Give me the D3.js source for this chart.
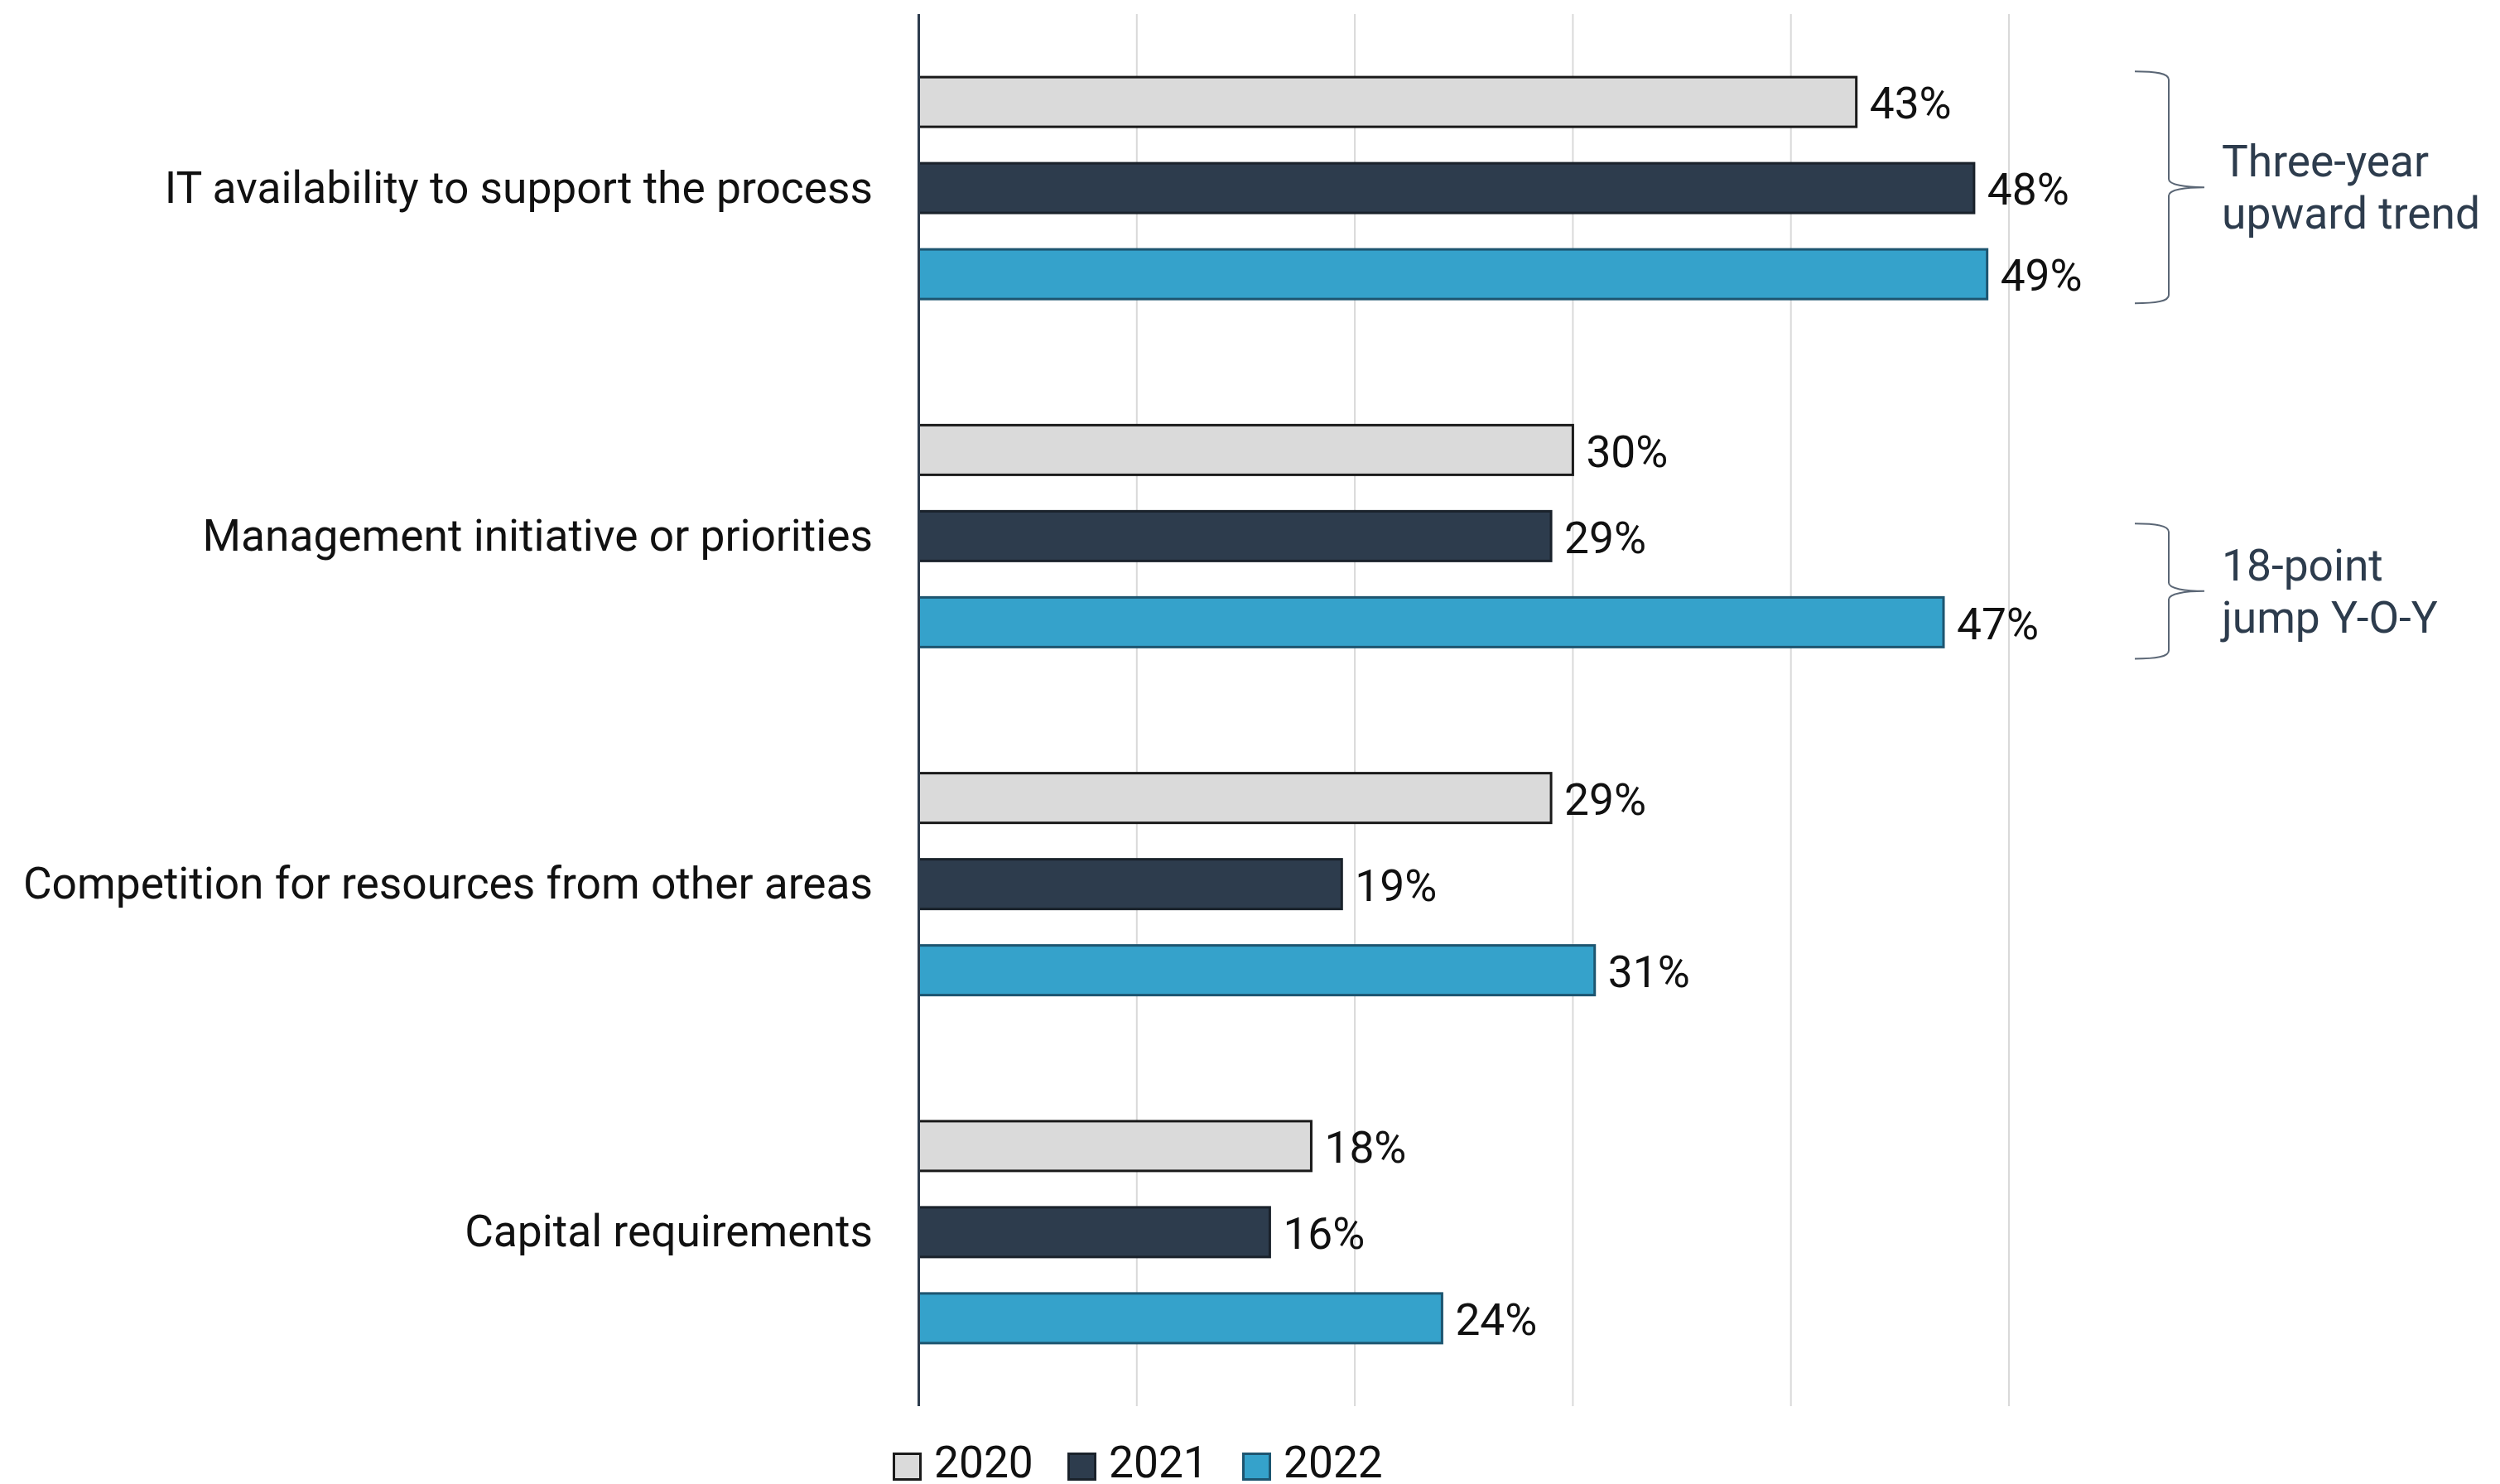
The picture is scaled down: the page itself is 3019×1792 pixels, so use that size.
<!DOCTYPE html>
<html>
<head>
<meta charset="utf-8">
<script src="https://cdn.jsdelivr.net/npm/d3@7"></script>
<style>
html,body{margin:0;padding:0;background:#fff;}
svg{display:block;}
text{font-family:Roboto, "Noto Sans", sans-serif;}
</style>
</head>
<body>
<svg id="chart" width="3019" height="1792"></svg>
<script>
const categories = ["IT availability to support the process","Management initiative or priorities","Competition for resources from other areas","Capital requirements"];
const seriesNames = ["2020","2021","2022"];
const values2020 = [43, 30, 29, 18];
const values2021 = [48.4, 29, 19.4, 16.1];
const values2022 = [49, 47, 31, 24];
const gridTicks = [10, 20, 30, 40, 50];
const annotations = [
  {lines:["Three-year","upward trend"], cat:0, from:"2020", to:"2022", dTop:-7, dBottom:5},
  {lines:["18-point","jump Y-O-Y"], cat:1, from:"2021", to:"2022", dTop:15, dBottom:14}
];

const fills = {"2020":"#dadada","2021":"#2d3c4d","2022":"#35a2cb"};
const strokes = {"2020":"#1a1a1a","2021":"#1a222b","2022":"#1d5570"};
const seriesVals = {"2020":values2020,"2021":values2021,"2022":values2022};

const svg = d3.select("#chart");
const x0 = 1109.5, plotTop = 17, plotBottom = 1698;
const x = d3.scaleLinear().domain([0,50]).range([x0, 2426]);
const y = d3.scaleBand().domain(categories).range([plotTop, plotBottom]);
const yInner = d3.scaleBand().domain(seriesNames).range([-134, 134]).paddingInner(0.423).paddingOuter(0);
const fontSize = 53.3;

// gridlines
svg.append("g").selectAll("line").data(gridTicks).join("line")
  .attr("x1", d=>x(d)).attr("x2", d=>x(d))
  .attr("y1", plotTop).attr("y2", plotBottom)
  .attr("stroke", "#d9d9d9").attr("stroke-width", 2);

// bars
const groups = svg.append("g").selectAll("g").data(categories).join("g")
  .attr("transform", d=>`translate(0,${y(d)+y.bandwidth()/2})`);

seriesNames.forEach(s=>{
  groups.append("rect")
    .attr("x", x(0))
    .attr("y", (d)=>yInner(s))
    .attr("width", (d,i)=>x(seriesVals[s][i])-x(0))
    .attr("height", yInner.bandwidth())
    .attr("fill", fills[s])
    .attr("stroke", strokes[s])
    .attr("stroke-width", 3);
  groups.append("text")
    .attr("x", (d,i)=>x(seriesVals[s][i]) + 16)
    .attr("y", d=>yInner(s)+yInner.bandwidth()/2)
    .attr("dy", "0.38em")
    .attr("font-size", fontSize)
    .attr("fill", "#111")
    .text((d,i)=>Math.round(seriesVals[s][i]) + "%");
});

// category labels
svg.append("g").selectAll("text").data(categories).join("text")
  .attr("x", 1054)
  .attr("y", d=>y(d)+y.bandwidth()/2)
  .attr("dy", "0.33em")
  .attr("text-anchor", "end")
  .attr("font-size", fontSize)
  .attr("fill", "#111")
  .text(d=>d);

// axis line
svg.append("line")
  .attr("x1", x0).attr("x2", x0).attr("y1", plotTop).attr("y2", plotBottom)
  .attr("stroke", "#2d3c4d").attr("stroke-width", 3);

// braces
function bracePath(xs, top, bottom, tip){
  const xv = xs + 41, xt = xs + 84;
  const r = 10;
  return `M${xs},${top} C${xs+25},${top} ${xv},${top+2} ${xv},${top+r}` +
    ` L${xv},${tip-r}` +
    ` C${xv},${tip-3} ${xv+20},${tip} ${xt},${tip}` +
    ` C${xv+20},${tip} ${xv},${tip+3} ${xv},${tip+r}` +
    ` L${xv},${bottom-r}` +
    ` C${xv},${bottom-2} ${xs+25},${bottom} ${xs},${bottom}`;
}
annotations.forEach(a=>{
  const c = y(categories[a.cat]) + y.bandwidth()/2;
  const top = c + yInner(a.from) + a.dTop;
  const bottom = c + yInner(a.to) + yInner.bandwidth() + a.dBottom;
  const tip = (top+bottom)/2;
  svg.append("path").attr("d", bracePath(2578, top, bottom, tip))
    .attr("fill","none").attr("stroke","#5a6675").attr("stroke-width",2);
  const t = svg.append("text").attr("font-size", fontSize).attr("fill", "#2d3c4d");
  a.lines.forEach((ln,j)=>{
    t.append("tspan").attr("x", 2683).attr("y", tip - 13 + j*63).text(ln);
  });
});

// legend
const legendItems = [{s:"2020",x:1078},{s:"2021",x:1289},{s:"2022",x:1500}];
const lg = svg.append("g");
legendItems.forEach(it=>{
  lg.append("rect").attr("x", it.x+1.5).attr("y", 1755.5).attr("width", 32).attr("height", 31)
    .attr("fill", fills[it.s]).attr("stroke", strokes[it.s]).attr("stroke-width", 3);
  lg.append("text").attr("x", it.x+50).attr("y", 1784).attr("font-size", fontSize).attr("fill","#111").text(it.s);
});
</script>
</body>
</html>
